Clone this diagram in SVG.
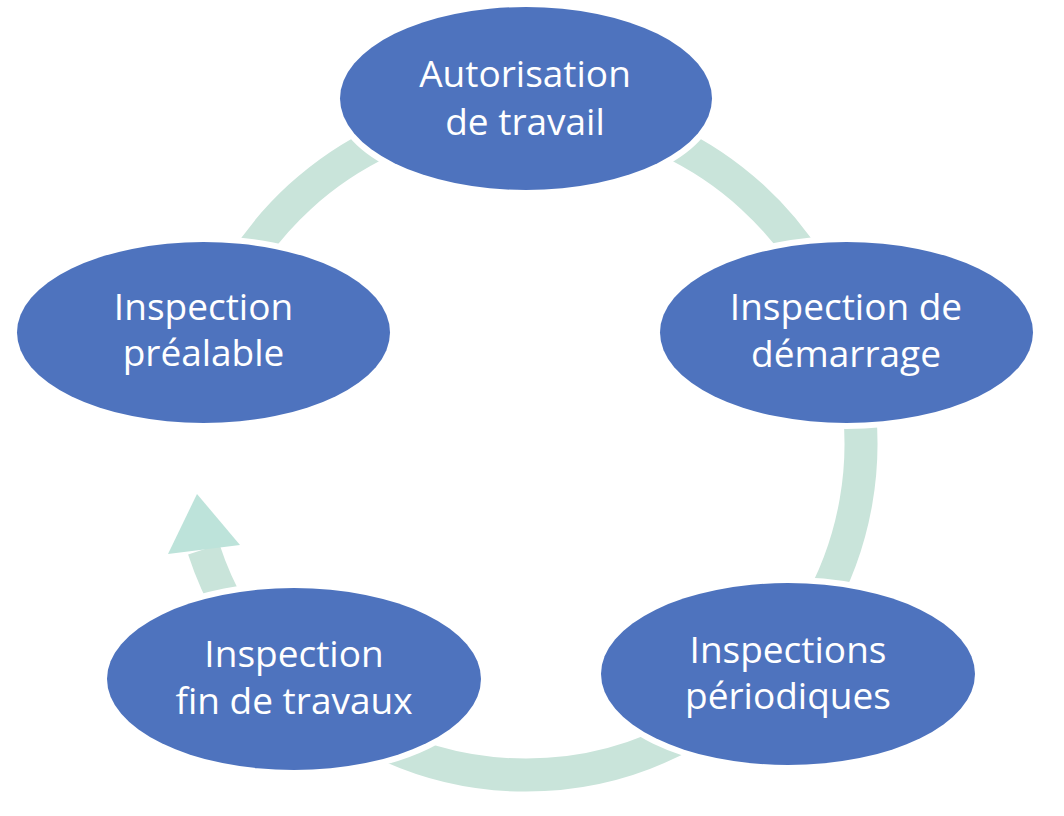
<svg xmlns="http://www.w3.org/2000/svg" width="1064" height="816" viewBox="0 0 1064 816">
<style>
.arc{fill:none;stroke:#C9E4DA;stroke-width:33;stroke-linecap:butt}
.node ellipse{fill:#4E73BE;stroke:#FFFFFF;stroke-width:12;paint-order:stroke}
.node text{font-family:"Open Sans","Liberation Sans",sans-serif;font-size:37px;fill:#FFFFFF;text-anchor:middle}
</style>
<rect width="1064" height="816" fill="#FFFFFF"/>
<g id="connectors">
<path class="arc" d="M 235.9 276.5 A 335 335 0 0 1 384.4 140.4"/>
<path class="arc" d="M 667.6 140.4 A 335 335 0 0 1 816.1 276.5"/>
<path class="arc" d="M 855.9 385.8 A 335 335 0 0 1 816.1 611.5"/>
<path class="arc" d="M 692 730.6 A 332 332 0 0 1 360 730.6"/>
<path class="arc" d="M 232.4 613.5 A 339 339 0 0 1 203.8 549.3"/>
<polygon points="197,494 240,545 168,554" fill="#BDE3DA"/>
</g>
<g id="node-autorisation" class="node">
<ellipse cx="526" cy="98.5" rx="186" ry="91.5"/>
<text x="525" y="87">Autorisation</text>
<text x="525" y="135">de travail</text>
</g>
<g id="node-demarrage" class="node">
<ellipse cx="846.5" cy="332.5" rx="186.5" ry="90.5"/>
<text x="846" y="320">Inspection de</text>
<text x="846" y="367">démarrage</text>
</g>
<g id="node-periodiques" class="node">
<ellipse cx="788" cy="674" rx="187" ry="91"/>
<text x="788" y="663">Inspections</text>
<text x="788" y="709">périodiques</text>
</g>
<g id="node-fin" class="node">
<ellipse cx="294" cy="679" rx="187" ry="91"/>
<text x="294" y="667">Inspection</text>
<text x="294" y="714">fin de travaux</text>
</g>
<g id="node-prealable" class="node">
<ellipse cx="203.5" cy="332.5" rx="186.5" ry="90.5"/>
<text x="203.5" y="320">Inspection</text>
<text x="203.5" y="366">préalable</text>
</g>
</svg>
